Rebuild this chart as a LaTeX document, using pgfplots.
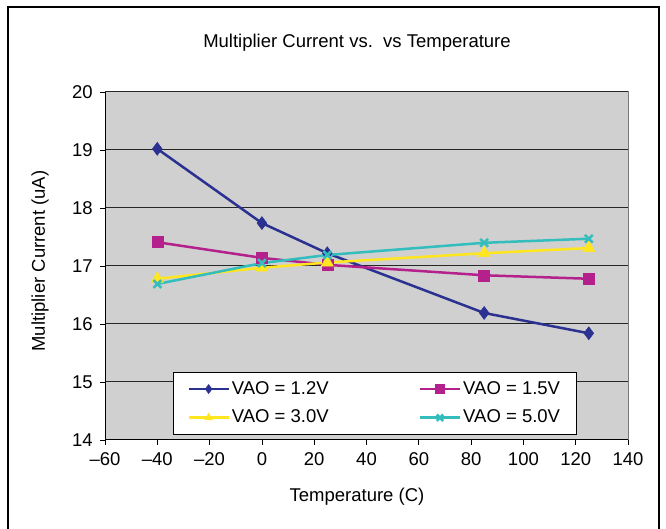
\documentclass[border=0pt]{standalone}
\usepackage{pgfplots}
\pgfplotsset{compat=1.18}
\usepackage{fontspec}
\setmainfont{Liberation Sans}

\definecolor{vaoA}{RGB}{43,49,144}
\definecolor{vaoB}{RGB}{181,33,140}
\definecolor{vaoC}{RGB}{255,230,30}
\definecolor{vaoD}{RGB}{51,189,189}
\definecolor{plotbg}{RGB}{208,208,208}
\definecolor{plotedge}{RGB}{120,120,120}

\newcommand{\chartfont}{\fontsize{18.5}{22}\selectfont}

\begin{document}
\begin{tikzpicture}[x=1pt,y=1pt]
\chartfont
% outer frame
\draw[line width=1.3pt,black] (8,-10) -- (8,522) -- (659,522) -- (659,-10);
\begin{axis}[
  at={(105pt,89pt)}, anchor=south west,
  width=523pt, height=348pt, scale only axis,
  xmin=-60, xmax=140, ymin=14, ymax=20,
  xtick={-60,-40,...,140},
  xticklabels={--60,--40,--20,0,20,40,60,80,100,120,140},
  ytick={14,15,...,20},
  ticklabel style={font=\chartfont},
  /pgf/number format/assume math mode=true,
  tick align=outside, major tick length=5pt,
  xtick pos=bottom, ytick pos=left,
  tick style={black, line width=0.8pt},
  ymajorgrids, grid style={black!85, line width=1pt},
  axis line style={draw=none},
  axis background/.style={fill=plotbg, draw=plotedge, line width=1pt},
  xticklabel style={yshift=-1pt},
  yticklabel style={xshift=-1pt},
  legend columns=2,
  legend style={at={(0.1300,0.0144)}, anchor=south west,
    draw=black, fill=white, line width=0.8pt,
    font=\chartfont,
    inner xsep=14pt, inner ysep=7pt, row sep=9pt,
    /tikz/every even column/.append style={column sep=88pt}},
  legend cell align=left,
  legend image code/.code={%
    \draw[mark repeat=2,mark phase=2,mark size=4.5pt] plot coordinates {(0pt,0pt) (20pt,0pt) (40pt,0pt)};},
  every axis plot/.append style={line width=2.5pt},
]
% left and bottom axis lines
\draw[black, line width=1pt] (axis cs:-60,20) -- (axis cs:-60,14) -- (axis cs:140,14);

\addplot[color=vaoA, mark=diamond*, mark size=6.5pt, mark options={solid, line width=0.5pt}]
  coordinates {(-40,19.02) (0,17.74) (25,17.22) (85,16.19) (125,15.84)};
\addlegendentry{VAO = 1.2V}
\addplot[color=vaoB, mark=square*, mark size=5.5pt, mark options={solid, line width=0.5pt}]
  coordinates {(-40,17.41) (0,17.14) (25,17.02) (85,16.84) (125,16.78)};
\addlegendentry{VAO = 1.5V}
\addplot[color=vaoC, mark=triangle*, mark size=7pt, mark options={solid, line width=0.5pt}]
  coordinates {(-40,16.78) (0,16.97) (25,17.06) (85,17.22) (125,17.31)};
\addlegendentry{VAO = 3.0V}
\addplot[color=vaoD, mark=x, mark size=5.5pt, mark options={solid, line width=2.5pt}]
  coordinates {(-40,16.69) (0,17.05) (25,17.19) (85,17.40) (125,17.47)};
\addlegendentry{VAO = 5.0V}
\end{axis}
% titles
\node at (357,486) {Multiplier Current vs.\ \ vs Temperature};
\node at (357,32) {Temperature (C)};
\node[rotate=90] at (40,268) {Multiplier Current (uA)};
\pgfresetboundingbox
\useasboundingbox (0,0) rectangle (666,529);
\end{tikzpicture}
\end{document}
